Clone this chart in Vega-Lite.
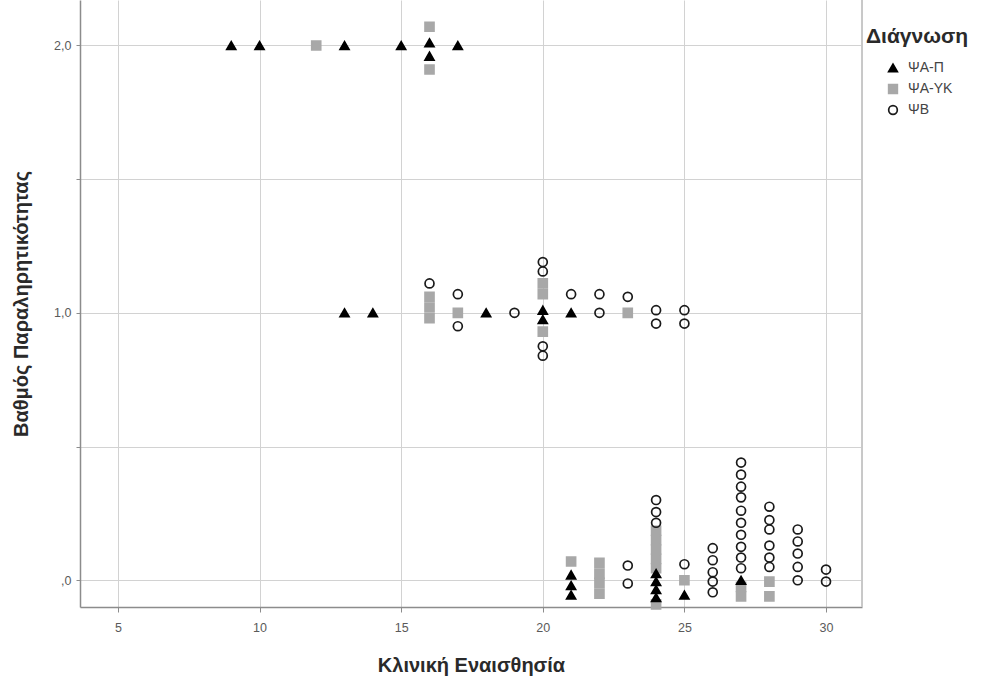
{
  "$schema": "https://vega.github.io/schema/vega-lite/v6.json",
  "width": 782,
  "height": 607,
  "autosize": {"type": "none"},
  "padding": {"left": 80, "top": 0, "right": 120, "bottom": 69},
  "background": "white",
  "config": {
    "view": {"stroke": null},
    "font": "Liberation Sans",
    "axis": {
      "grid": true,
      "gridColor": "#d2d2d2",
      "gridWidth": 1,
      "domainColor": "#8c8c8c",
      "domainWidth": 1.5,
      "tickColor": "#8c8c8c",
      "tickSize": 5,
      "labelFontSize": 12.5,
      "labelColor": "#5a5a5a",
      "titleFontSize": 20,
      "titleFontWeight": "bold",
      "titleColor": "#2a2a2a"
    },
    "legend": {
      "orient": "none",
      "legendX": 786,
      "legendY": 26,
      "padding": 0,
      "titleFontSize": 21,
      "titleFontWeight": "bold",
      "titleColor": "#2a2a2a",
      "titlePadding": 14,
      "labelFontSize": 14,
      "labelColor": "#444444",
      "symbolOffset": 20,
      "symbolSize": 75,
      "symbolStrokeWidth": 1.7,
      "rowPadding": 5,
      "labelOffset": 8
    }
  },
  "data": {
    "values": [
      {"Κλινική Εναισθησία": 12, "Βαθμός Παραληρητικότητας": 2.0, "Διάγνωση": "ΨΑ-ΥΚ"},
      {"Κλινική Εναισθησία": 16, "Βαθμός Παραληρητικότητας": 2.07, "Διάγνωση": "ΨΑ-ΥΚ"},
      {"Κλινική Εναισθησία": 16, "Βαθμός Παραληρητικότητας": 1.91, "Διάγνωση": "ΨΑ-ΥΚ"},
      {"Κλινική Εναισθησία": 16, "Βαθμός Παραληρητικότητας": 1.06, "Διάγνωση": "ΨΑ-ΥΚ"},
      {"Κλινική Εναισθησία": 16, "Βαθμός Παραληρητικότητας": 1.02, "Διάγνωση": "ΨΑ-ΥΚ"},
      {"Κλινική Εναισθησία": 16, "Βαθμός Παραληρητικότητας": 0.98, "Διάγνωση": "ΨΑ-ΥΚ"},
      {"Κλινική Εναισθησία": 17, "Βαθμός Παραληρητικότητας": 1.0, "Διάγνωση": "ΨΑ-ΥΚ"},
      {"Κλινική Εναισθησία": 20, "Βαθμός Παραληρητικότητας": 1.11, "Διάγνωση": "ΨΑ-ΥΚ"},
      {"Κλινική Εναισθησία": 20, "Βαθμός Παραληρητικότητας": 1.07, "Διάγνωση": "ΨΑ-ΥΚ"},
      {"Κλινική Εναισθησία": 20, "Βαθμός Παραληρητικότητας": 0.93, "Διάγνωση": "ΨΑ-ΥΚ"},
      {"Κλινική Εναισθησία": 23, "Βαθμός Παραληρητικότητας": 1.0, "Διάγνωση": "ΨΑ-ΥΚ"},
      {"Κλινική Εναισθησία": 21, "Βαθμός Παραληρητικότητας": 0.07, "Διάγνωση": "ΨΑ-ΥΚ"},
      {"Κλινική Εναισθησία": 22, "Βαθμός Παραληρητικότητας": 0.065, "Διάγνωση": "ΨΑ-ΥΚ"},
      {"Κλινική Εναισθησία": 22, "Βαθμός Παραληρητικότητας": 0.025, "Διάγνωση": "ΨΑ-ΥΚ"},
      {"Κλινική Εναισθησία": 22, "Βαθμός Παραληρητικότητας": -0.01, "Διάγνωση": "ΨΑ-ΥΚ"},
      {"Κλινική Εναισθησία": 22, "Βαθμός Παραληρητικότητας": -0.05, "Διάγνωση": "ΨΑ-ΥΚ"},
      {"Κλινική Εναισθησία": 24, "Βαθμός Παραληρητικότητας": 0.185, "Διάγνωση": "ΨΑ-ΥΚ"},
      {"Κλινική Εναισθησία": 24, "Βαθμός Παραληρητικότητας": 0.15, "Διάγνωση": "ΨΑ-ΥΚ"},
      {"Κλινική Εναισθησία": 24, "Βαθμός Παραληρητικότητας": 0.115, "Διάγνωση": "ΨΑ-ΥΚ"},
      {"Κλινική Εναισθησία": 24, "Βαθμός Παραληρητικότητας": 0.08, "Διάγνωση": "ΨΑ-ΥΚ"},
      {"Κλινική Εναισθησία": 24, "Βαθμός Παραληρητικότητας": 0.045, "Διάγνωση": "ΨΑ-ΥΚ"},
      {"Κλινική Εναισθησία": 24, "Βαθμός Παραληρητικότητας": -0.09, "Διάγνωση": "ΨΑ-ΥΚ"},
      {"Κλινική Εναισθησία": 25, "Βαθμός Παραληρητικότητας": 0.0, "Διάγνωση": "ΨΑ-ΥΚ"},
      {"Κλινική Εναισθησία": 27, "Βαθμός Παραληρητικότητας": -0.025, "Διάγνωση": "ΨΑ-ΥΚ"},
      {"Κλινική Εναισθησία": 27, "Βαθμός Παραληρητικότητας": -0.06, "Διάγνωση": "ΨΑ-ΥΚ"},
      {"Κλινική Εναισθησία": 28, "Βαθμός Παραληρητικότητας": -0.005, "Διάγνωση": "ΨΑ-ΥΚ"},
      {"Κλινική Εναισθησία": 28, "Βαθμός Παραληρητικότητας": -0.06, "Διάγνωση": "ΨΑ-ΥΚ"},
      {"Κλινική Εναισθησία": 9, "Βαθμός Παραληρητικότητας": 2.0, "Διάγνωση": "ΨΑ-Π"},
      {"Κλινική Εναισθησία": 10, "Βαθμός Παραληρητικότητας": 2.0, "Διάγνωση": "ΨΑ-Π"},
      {"Κλινική Εναισθησία": 13, "Βαθμός Παραληρητικότητας": 2.0, "Διάγνωση": "ΨΑ-Π"},
      {"Κλινική Εναισθησία": 15, "Βαθμός Παραληρητικότητας": 2.0, "Διάγνωση": "ΨΑ-Π"},
      {"Κλινική Εναισθησία": 16, "Βαθμός Παραληρητικότητας": 2.01, "Διάγνωση": "ΨΑ-Π"},
      {"Κλινική Εναισθησία": 16, "Βαθμός Παραληρητικότητας": 1.96, "Διάγνωση": "ΨΑ-Π"},
      {"Κλινική Εναισθησία": 17, "Βαθμός Παραληρητικότητας": 2.0, "Διάγνωση": "ΨΑ-Π"},
      {"Κλινική Εναισθησία": 13, "Βαθμός Παραληρητικότητας": 1.0, "Διάγνωση": "ΨΑ-Π"},
      {"Κλινική Εναισθησία": 14, "Βαθμός Παραληρητικότητας": 1.0, "Διάγνωση": "ΨΑ-Π"},
      {"Κλινική Εναισθησία": 18, "Βαθμός Παραληρητικότητας": 1.0, "Διάγνωση": "ΨΑ-Π"},
      {"Κλινική Εναισθησία": 20, "Βαθμός Παραληρητικότητας": 1.01, "Διάγνωση": "ΨΑ-Π"},
      {"Κλινική Εναισθησία": 20, "Βαθμός Παραληρητικότητας": 0.975, "Διάγνωση": "ΨΑ-Π"},
      {"Κλινική Εναισθησία": 21, "Βαθμός Παραληρητικότητας": 1.0, "Διάγνωση": "ΨΑ-Π"},
      {"Κλινική Εναισθησία": 21, "Βαθμός Παραληρητικότητας": 0.02, "Διάγνωση": "ΨΑ-Π"},
      {"Κλινική Εναισθησία": 21, "Βαθμός Παραληρητικότητας": -0.02, "Διάγνωση": "ΨΑ-Π"},
      {"Κλινική Εναισθησία": 21, "Βαθμός Παραληρητικότητας": -0.055, "Διάγνωση": "ΨΑ-Π"},
      {"Κλινική Εναισθησία": 24, "Βαθμός Παραληρητικότητας": 0.025, "Διάγνωση": "ΨΑ-Π"},
      {"Κλινική Εναισθησία": 24, "Βαθμός Παραληρητικότητας": -0.005, "Διάγνωση": "ΨΑ-Π"},
      {"Κλινική Εναισθησία": 24, "Βαθμός Παραληρητικότητας": -0.035, "Διάγνωση": "ΨΑ-Π"},
      {"Κλινική Εναισθησία": 24, "Βαθμός Παραληρητικότητας": -0.065, "Διάγνωση": "ΨΑ-Π"},
      {"Κλινική Εναισθησία": 25, "Βαθμός Παραληρητικότητας": -0.055, "Διάγνωση": "ΨΑ-Π"},
      {"Κλινική Εναισθησία": 27, "Βαθμός Παραληρητικότητας": 0.0, "Διάγνωση": "ΨΑ-Π"},
      {"Κλινική Εναισθησία": 16, "Βαθμός Παραληρητικότητας": 1.11, "Διάγνωση": "ΨΒ"},
      {"Κλινική Εναισθησία": 17, "Βαθμός Παραληρητικότητας": 1.07, "Διάγνωση": "ΨΒ"},
      {"Κλινική Εναισθησία": 17, "Βαθμός Παραληρητικότητας": 0.95, "Διάγνωση": "ΨΒ"},
      {"Κλινική Εναισθησία": 19, "Βαθμός Παραληρητικότητας": 1.0, "Διάγνωση": "ΨΒ"},
      {"Κλινική Εναισθησία": 20, "Βαθμός Παραληρητικότητας": 1.19, "Διάγνωση": "ΨΒ"},
      {"Κλινική Εναισθησία": 20, "Βαθμός Παραληρητικότητας": 1.155, "Διάγνωση": "ΨΒ"},
      {"Κλινική Εναισθησία": 20, "Βαθμός Παραληρητικότητας": 0.875, "Διάγνωση": "ΨΒ"},
      {"Κλινική Εναισθησία": 20, "Βαθμός Παραληρητικότητας": 0.84, "Διάγνωση": "ΨΒ"},
      {"Κλινική Εναισθησία": 21, "Βαθμός Παραληρητικότητας": 1.07, "Διάγνωση": "ΨΒ"},
      {"Κλινική Εναισθησία": 22, "Βαθμός Παραληρητικότητας": 1.07, "Διάγνωση": "ΨΒ"},
      {"Κλινική Εναισθησία": 22, "Βαθμός Παραληρητικότητας": 1.0, "Διάγνωση": "ΨΒ"},
      {"Κλινική Εναισθησία": 23, "Βαθμός Παραληρητικότητας": 1.06, "Διάγνωση": "ΨΒ"},
      {"Κλινική Εναισθησία": 24, "Βαθμός Παραληρητικότητας": 1.01, "Διάγνωση": "ΨΒ"},
      {"Κλινική Εναισθησία": 24, "Βαθμός Παραληρητικότητας": 0.96, "Διάγνωση": "ΨΒ"},
      {"Κλινική Εναισθησία": 25, "Βαθμός Παραληρητικότητας": 1.01, "Διάγνωση": "ΨΒ"},
      {"Κλινική Εναισθησία": 25, "Βαθμός Παραληρητικότητας": 0.96, "Διάγνωση": "ΨΒ"},
      {"Κλινική Εναισθησία": 23, "Βαθμός Παραληρητικότητας": 0.055, "Διάγνωση": "ΨΒ"},
      {"Κλινική Εναισθησία": 23, "Βαθμός Παραληρητικότητας": -0.012, "Διάγνωση": "ΨΒ"},
      {"Κλινική Εναισθησία": 24, "Βαθμός Παραληρητικότητας": 0.3, "Διάγνωση": "ΨΒ"},
      {"Κλινική Εναισθησία": 24, "Βαθμός Παραληρητικότητας": 0.255, "Διάγνωση": "ΨΒ"},
      {"Κλινική Εναισθησία": 24, "Βαθμός Παραληρητικότητας": 0.215, "Διάγνωση": "ΨΒ"},
      {"Κλινική Εναισθησία": 25, "Βαθμός Παραληρητικότητας": 0.06, "Διάγνωση": "ΨΒ"},
      {"Κλινική Εναισθησία": 26, "Βαθμός Παραληρητικότητας": 0.12, "Διάγνωση": "ΨΒ"},
      {"Κλινική Εναισθησία": 26, "Βαθμός Παραληρητικότητας": 0.075, "Διάγνωση": "ΨΒ"},
      {"Κλινική Εναισθησία": 26, "Βαθμός Παραληρητικότητας": 0.03, "Διάγνωση": "ΨΒ"},
      {"Κλινική Εναισθησία": 26, "Βαθμός Παραληρητικότητας": -0.005, "Διάγνωση": "ΨΒ"},
      {"Κλινική Εναισθησία": 26, "Βαθμός Παραληρητικότητας": -0.045, "Διάγνωση": "ΨΒ"},
      {"Κλινική Εναισθησία": 27, "Βαθμός Παραληρητικότητας": 0.44, "Διάγνωση": "ΨΒ"},
      {"Κλινική Εναισθησία": 27, "Βαθμός Παραληρητικότητας": 0.395, "Διάγνωση": "ΨΒ"},
      {"Κλινική Εναισθησία": 27, "Βαθμός Παραληρητικότητας": 0.35, "Διάγνωση": "ΨΒ"},
      {"Κλινική Εναισθησία": 27, "Βαθμός Παραληρητικότητας": 0.31, "Διάγνωση": "ΨΒ"},
      {"Κλινική Εναισθησία": 27, "Βαθμός Παραληρητικότητας": 0.26, "Διάγνωση": "ΨΒ"},
      {"Κλινική Εναισθησία": 27, "Βαθμός Παραληρητικότητας": 0.215, "Διάγνωση": "ΨΒ"},
      {"Κλινική Εναισθησία": 27, "Βαθμός Παραληρητικότητας": 0.17, "Διάγνωση": "ΨΒ"},
      {"Κλινική Εναισθησία": 27, "Βαθμός Παραληρητικότητας": 0.125, "Διάγνωση": "ΨΒ"},
      {"Κλινική Εναισθησία": 27, "Βαθμός Παραληρητικότητας": 0.085, "Διάγνωση": "ΨΒ"},
      {"Κλινική Εναισθησία": 27, "Βαθμός Παραληρητικότητας": 0.045, "Διάγνωση": "ΨΒ"},
      {"Κλινική Εναισθησία": 28, "Βαθμός Παραληρητικότητας": 0.275, "Διάγνωση": "ΨΒ"},
      {"Κλινική Εναισθησία": 28, "Βαθμός Παραληρητικότητας": 0.225, "Διάγνωση": "ΨΒ"},
      {"Κλινική Εναισθησία": 28, "Βαθμός Παραληρητικότητας": 0.19, "Διάγνωση": "ΨΒ"},
      {"Κλινική Εναισθησία": 28, "Βαθμός Παραληρητικότητας": 0.13, "Διάγνωση": "ΨΒ"},
      {"Κλινική Εναισθησία": 28, "Βαθμός Παραληρητικότητας": 0.085, "Διάγνωση": "ΨΒ"},
      {"Κλινική Εναισθησία": 28, "Βαθμός Παραληρητικότητας": 0.05, "Διάγνωση": "ΨΒ"},
      {"Κλινική Εναισθησία": 29, "Βαθμός Παραληρητικότητας": 0.19, "Διάγνωση": "ΨΒ"},
      {"Κλινική Εναισθησία": 29, "Βαθμός Παραληρητικότητας": 0.145, "Διάγνωση": "ΨΒ"},
      {"Κλινική Εναισθησία": 29, "Βαθμός Παραληρητικότητας": 0.1, "Διάγνωση": "ΨΒ"},
      {"Κλινική Εναισθησία": 29, "Βαθμός Παραληρητικότητας": 0.05, "Διάγνωση": "ΨΒ"},
      {"Κλινική Εναισθησία": 29, "Βαθμός Παραληρητικότητας": 0.0, "Διάγνωση": "ΨΒ"},
      {"Κλινική Εναισθησία": 30, "Βαθμός Παραληρητικότητας": 0.04, "Διάγνωση": "ΨΒ"},
      {"Κλινική Εναισθησία": 30, "Βαθμός Παραληρητικότητας": -0.005, "Διάγνωση": "ΨΒ"}
    ]
  },
  "layer": [
    {
      "mark": {"type": "rule", "color": "#c8c8c8", "strokeWidth": 1},
      "encoding": {"x": {"datum": 31.27, "type": "quantitative"}}
    },
    {
      "mark": {"type": "point", "filled": true, "size": 80, "strokeWidth": 1.7, "opacity": 1},
      "encoding": {
        "x": {
          "field": "Κλινική Εναισθησία",
          "type": "quantitative",
          "scale": {"domain": [3.66, 31.27], "nice": false, "zero": false},
          "axis": {"values": [5, 10, 15, 20, 25, 30], "format": "d", "labelPadding": 9, "titlePadding": 22}
        },
        "y": {
          "field": "Βαθμός Παραληρητικότητας",
          "type": "quantitative",
          "scale": {"domain": [-0.1, 2.17], "nice": false, "zero": false},
          "axis": {
            "values": [0, 0.5, 1, 1.5, 2],
            "labelExpr": "datum.value == 2 ? '2,0' : datum.value == 1 ? '1,0' : datum.value == 0 ? ',0' : ''",
            "tickSize": 4,
            "labelPadding": 5,
            "titlePadding": 22
          }
        },
        "shape": {
          "field": "Διάγνωση",
          "type": "nominal",
          "scale": {"domain": ["ΨΑ-Π", "ΨΑ-ΥΚ", "ΨΒ"], "range": ["triangle-up", "square", "circle"]}
        },
        "fill": {
          "field": "Διάγνωση",
          "type": "nominal",
          "scale": {"domain": ["ΨΑ-Π", "ΨΑ-ΥΚ", "ΨΒ"], "range": ["#000000", "#a8a8a8", "transparent"]}
        },
        "stroke": {
          "field": "Διάγνωση",
          "type": "nominal",
          "scale": {"domain": ["ΨΑ-Π", "ΨΑ-ΥΚ", "ΨΒ"], "range": ["#000000", "#a8a8a8", "#1a1a1a"]}
        }
      }
    }
  ]
}
